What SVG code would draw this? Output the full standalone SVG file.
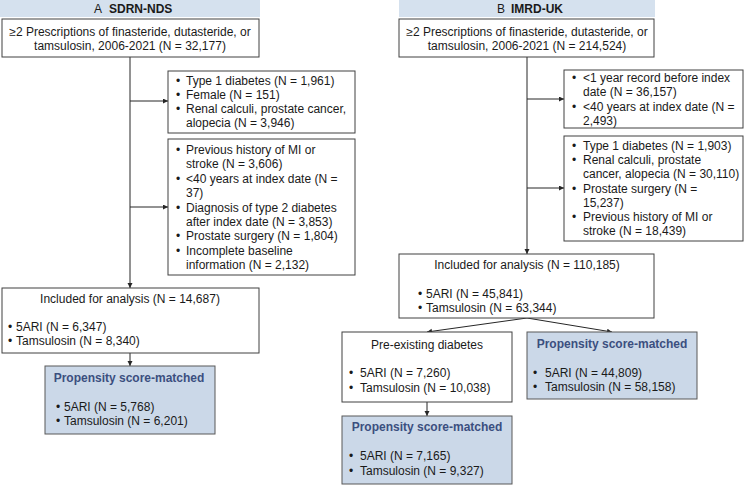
<svg xmlns="http://www.w3.org/2000/svg" width="745" height="486" viewBox="0 0 745 486">
<defs>
<marker id="ah" markerUnits="userSpaceOnUse" markerWidth="6" markerHeight="6" refX="5" refY="2.5" orient="auto">
<path d="M0,0 L5,2.5 L0,5 z" fill="#262626"/>
</marker>
<style>
text{font-family:"Liberation Sans",Arial,sans-serif;font-size:12px;fill:#1a1a1a}
.c{text-anchor:middle}
.box{fill:#ffffff;stroke:#404040;stroke-width:1}
.ps{fill:#cbd8e8;stroke:#595959;stroke-width:1}
.hdr{fill:#d5e1ee}
.pst{font-weight:bold;fill:#3b4f7f;text-anchor:middle}
.hb{font-weight:bold}
.ln{fill:none;stroke:#262626;stroke-width:1;marker-end:url(#ah)}
</style>
</defs>
<rect width="745" height="486" fill="#ffffff"/>

<g id="headerA">
<rect class="hdr" x="0" y="0" width="260" height="17"/>
<text y="13"><tspan x="94">A</tspan><tspan x="109" class="hb">SDRN-NDS</tspan></text>
</g>
<g id="headerB">
<rect class="hdr" x="399" y="0" width="256" height="17"/>
<text y="13"><tspan x="497">B</tspan><tspan x="511" class="hb">IMRD-UK</tspan></text>
</g>

<g id="connectors">
<line class="ln" x1="130" y1="57" x2="130" y2="288"/>
<line class="ln" x1="130" y1="101" x2="168" y2="101"/>
<line class="ln" x1="130" y1="207" x2="168" y2="207"/>
<line class="ln" x1="130" y1="353" x2="130" y2="366"/>
<line class="ln" x1="527" y1="57" x2="527" y2="254"/>
<line class="ln" x1="527" y1="99" x2="564" y2="99"/>
<line class="ln" x1="527" y1="188" x2="564" y2="188"/>
<line class="ln" x1="527" y1="318" x2="427" y2="332"/>
<line class="ln" x1="527" y1="318" x2="612" y2="332"/>
<line class="ln" x1="427" y1="402" x2="427" y2="416"/>
</g>

<g id="A_start">
<rect class="box" x="2" y="19" width="257" height="38"/>
<text class="c" x="130" y="36">≥2 Prescriptions of finasteride, dutasteride, or</text>
<text class="c" x="130" y="50">tamsulosin, 2006-2021 (N = 32,177)</text>
</g>

<g id="A_excl1">
<rect class="box" x="168" y="71" width="187" height="62"/>
<text x="176" y="85">•</text><text x="186" y="85">Type 1 diabetes (N = 1,961)</text>
<text x="176" y="99">•</text><text x="186" y="99">Female (N = 151)</text>
<text x="176" y="113">•</text><text x="186" y="113">Renal calculi, prostate cancer,</text>
<text x="186" y="127">alopecia (N = 3,946)</text>
</g>

<g id="A_excl2">
<rect class="box" x="168" y="139" width="187" height="136"/>
<text x="176" y="154">•</text><text x="186" y="154">Previous history of MI or</text>
<text x="186" y="168.4">stroke (N = 3,606)</text>
<text x="176" y="182.8">•</text><text x="186" y="182.8">&lt;40 years at index date (N =</text>
<text x="186" y="197.2">37)</text>
<text x="176" y="211.6">•</text><text x="186" y="211.6">Diagnosis of type 2 diabetes</text>
<text x="186" y="226">after index date (N = 3,853)</text>
<text x="176" y="240.4">•</text><text x="186" y="240.4">Prostate surgery (N = 1,804)</text>
<text x="176" y="254.8">•</text><text x="186" y="254.8">Incomplete baseline</text>
<text x="186" y="269.2">information (N = 2,132)</text>
</g>

<g id="A_included">
<rect class="box" x="2" y="288" width="257" height="65"/>
<text class="c" x="130" y="303">Included for analysis (N = 14,687)</text>
<text x="8" y="331">•</text><text x="16" y="331">5ARI (N = 6,347)</text>
<text x="8" y="345">•</text><text x="16" y="345">Tamsulosin (N = 8,340)</text>
</g>

<g id="A_psm">
<rect class="ps" x="45" y="366" width="170" height="68"/>
<text class="pst" x="129" y="382">Propensity score-matched</text>
<text x="56" y="411">•</text><text x="64" y="411">5ARI (N = 5,768)</text>
<text x="56" y="425">•</text><text x="64" y="425">Tamsulosin (N = 6,201)</text>
</g>

<g id="B_start">
<rect class="box" x="399" y="19" width="255" height="38"/>
<text class="c" x="527" y="36">≥2 Prescriptions of finasteride, dutasteride, or</text>
<text class="c" x="527" y="50">tamsulosin, 2006-2021 (N = 214,524)</text>
</g>

<g id="B_excl1">
<rect class="box" x="564" y="70" width="179" height="58"/>
<text x="572" y="82">•</text><text x="583" y="82">&lt;1 year record before index</text>
<text x="583" y="95.5">date (N = 36,157)</text>
<text x="572" y="111">•</text><text x="583" y="111">&lt;40 years at index date (N =</text>
<text x="583" y="124.5">2,493)</text>
</g>

<g id="B_excl2">
<rect class="box" x="564" y="136" width="179" height="105"/>
<text x="572" y="150">•</text><text x="583" y="150">Type 1 diabetes (N = 1,903)</text>
<text x="572" y="164">•</text><text x="583" y="164">Renal calculi, prostate</text>
<text x="583" y="178">cancer, alopecia (N = 30,110)</text>
<text x="572" y="192.5">•</text><text x="583" y="192.5">Prostate surgery (N =</text>
<text x="583" y="206.5">15,237)</text>
<text x="572" y="221">•</text><text x="583" y="221">Previous history of MI or</text>
<text x="583" y="235">stroke (N = 18,439)</text>
</g>

<g id="B_included">
<rect class="box" x="399" y="254" width="255" height="64"/>
<text class="c" x="527" y="269">Included for analysis (N = 110,185)</text>
<text x="418" y="298">•</text><text x="426" y="298">5ARI (N = 45,841)</text>
<text x="418" y="312">•</text><text x="426" y="312">Tamsulosin (N = 63,344)</text>
</g>

<g id="B_preexisting">
<rect class="box" x="342" y="332" width="170" height="70"/>
<text class="c" x="427" y="349">Pre-existing diabetes</text>
<text x="349" y="377">•</text><text x="360" y="377">5ARI (N = 7,260)</text>
<text x="349" y="392">•</text><text x="360" y="392">Tamsulosin (N = 10,038)</text>
</g>

<g id="B_psm_diabetes">
<rect class="ps" x="342" y="416" width="170" height="68"/>
<text class="pst" x="427" y="431">Propensity score-matched</text>
<text x="349" y="460">•</text><text x="360" y="460">5ARI (N = 7,165)</text>
<text x="349" y="475">•</text><text x="360" y="475">Tamsulosin (N = 9,327)</text>
</g>

<g id="B_psm">
<rect class="ps" x="527" y="332" width="170" height="67"/>
<text class="pst" x="612" y="348">Propensity score-matched</text>
<text x="533" y="377">•</text><text x="545" y="377">5ARI (N = 44,809)</text>
<text x="533" y="391">•</text><text x="545" y="391">Tamsulosin (N = 58,158)</text>
</g>
</svg>
